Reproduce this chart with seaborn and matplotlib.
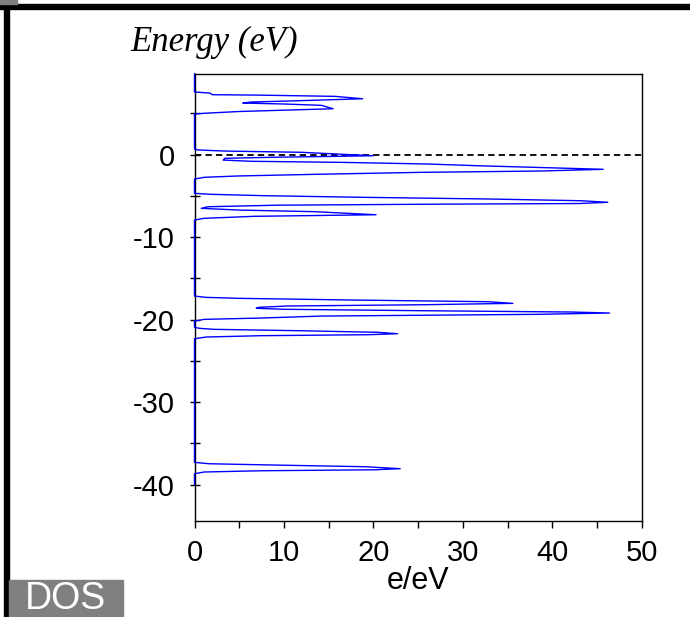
import matplotlib
matplotlib.use("Agg")
import matplotlib.pyplot as plt
from matplotlib.patches import Rectangle
import seaborn as sns
import pandas as pd

# ---- data (energy in eV, DOS in states/eV) ----
top_energy = [9.8]
top_dos = [0.0]

band1_energy = [7.58, 7.45, 7.25, 7.2, 7.05, 6.76, 6.52, 6.36, 6.24, 6.12, 5.96, 5.55, 5.21, 4.99, 4.9]
band1_dos = [0.0, 1.7, 2.0, 7.1, 15.7, 18.8, 11.6, 6.3, 5.4, 10.1, 14.2, 15.5, 4.9, 0.95, 0.0]

band2_energy = [0.67, 0.55, 0.42, 0.27, -0.15, -0.34, -0.46, -0.67, -0.82, -0.95, -1.15, -1.36,
                -1.6, -1.79, -2.0, -2.16, -2.4, -2.6, -2.76, -2.97]
band2_dos = [0.0, 0.4, 3.4, 11.9, 20.0, 8.5, 3.4, 3.2, 6.3, 16.4, 26.1, 31.7,
             39.5, 45.7, 38.7, 25.3, 13.5, 4.9, 1.1, 0.0]

band3_energy = [-4.70, -4.82, -4.99, -5.19, -5.39, -5.6, -5.79, -5.94, -6.02, -6.14, -6.33, -6.52,
                -6.73, -6.93, -7.13, -7.3, -7.49, -7.73, -7.94]
band3_dos = [0.0, 1.7, 7.85, 19.0, 32.8, 43.2, 46.2, 43.0, 26.9, 9.3, 1.5, 0.76,
             4.9, 13.5, 17.2, 20.3, 6.7, 1.1, 0.0]

band4_energy = [-17.15, -17.31, -17.43, -17.64, -17.84, -18.04, -18.21, -18.36, -18.52, -18.64,
                -18.76, -18.93, -19.09, -19.21, -19.37, -19.58, -19.82, -19.98, -20.18]
band4_dos = [0.0, 1.2, 4.9, 17.9, 32.8, 35.6, 25.3, 10.4, 7.2, 6.9,
             10.1, 25.3, 42.1, 46.4, 38.4, 14.2, 7.4, 1.1, 0.0]

band5_energy = [-20.95, -21.07, -21.19, -21.36, -21.55, -21.72, -21.84, -21.96, -22.12, -22.33]
band5_dos = [0.0, 0.6, 2.2, 11.9, 20.5, 22.7, 19.4, 7.4, 1.3, 0.0]

band6_energy = [-37.31, -37.48, -37.64, -37.84, -38.08, -38.21, -38.33, -38.48, -38.69]
band6_dos = [0.0, 1.6, 9.0, 19.0, 23.0, 20.2, 7.5, 1.1, 0.0]

bottom_energy = [-40.0]
bottom_dos = [0.0]

x_ticks = [0, 10, 20, 30, 40, 50]
x_minor = [5, 15, 25, 35, 45]
y_ticks = [-40, -30, -20, -10, 0]
y_minor = [-35, -25, -15, -5, 5]

energy = (top_energy + band1_energy + band2_energy + band3_energy + band4_energy
          + band5_energy + band6_energy + bottom_energy)
dos = (top_dos + band1_dos + band2_dos + band3_dos + band4_dos
       + band5_dos + band6_dos + bottom_dos)
df = pd.DataFrame({"dos": dos, "energy": energy})

sns.set_style("white")
plt.rcParams["font.family"] = ["Liberation Sans", "DejaVu Sans"]
plt.rcParams["text.color"] = "black"
plt.rcParams["axes.labelcolor"] = "black"
plt.rcParams["xtick.color"] = "black"
plt.rcParams["ytick.color"] = "black"

fig = plt.figure(figsize=(6.9, 6.17), dpi=100)
ax = fig.add_axes([194.5 / 690, 96 / 617, (641.7 - 194.5) / 690, (521 - 74) / 617])

ax.axhline(0, color="black", lw=1.3, dashes=(3.5, 2.3), zorder=2)
sns.lineplot(data=df, x="dos", y="energy", orient="y", sort=False, estimator=None,
             color="#0000ff", lw=1.0, ax=ax, clip_on=False, zorder=4)

ax.set_xlim(0, 50)
ax.set_ylim(-44.42, 9.76)
ax.set_xticks(x_ticks)
ax.set_xticks(x_minor, minor=True)
ax.set_yticks(y_ticks)
ax.set_yticks(y_minor, minor=True)
ax.set_xticklabels([str(t) for t in x_ticks])
ax.set_yticklabels([str(t) for t in y_ticks])

ax.tick_params(axis="x", which="both", direction="out", length=5, width=1.0,
               colors="black", labelsize=21, pad=8)
ax.tick_params(axis="y", which="both", direction="inout", length=6.5, width=1.0,
               colors="black", labelsize=21, pad=11)
ax.tick_params(axis="both", which="both", bottom=True, left=True)

for sp in ax.spines.values():
    sp.set_color("black")
    sp.set_linewidth(1.0)
    sp.set_visible(True)

ax.set_xlabel("e/eV", fontsize=22, labelpad=-1, color="black")
ax.set_ylabel("")

fig.text(130 / 690, 1 - 42 / 617, "Energy (eV)", fontsize=25, style="italic",
         family="Liberation Serif", ha="left", va="center", color="black")

# frame decorations
fig.patches.append(Rectangle((4 / 690, 0), 4.5 / 690, (617 - 3.5) / 617,
                             transform=fig.transFigure, color="black", zorder=0))
fig.patches.append(Rectangle((0, (617 - 9) / 617), 1, 5.5 / 617,
                             transform=fig.transFigure, color="black", zorder=0))
fig.patches.append(Rectangle((0, (617 - 3.5) / 617), 17 / 690, 3.5 / 617,
                             transform=fig.transFigure, color="#808080", zorder=0))
fig.patches.append(Rectangle((9 / 690, 0), 114 / 690, 37 / 617,
                             transform=fig.transFigure, color="#808080", zorder=0))
fig.text(66 / 690, 1 - 599 / 617, "DOS", fontsize=27, color="white",
         ha="center", va="center")

fig.savefig("out.png", dpi=100)
